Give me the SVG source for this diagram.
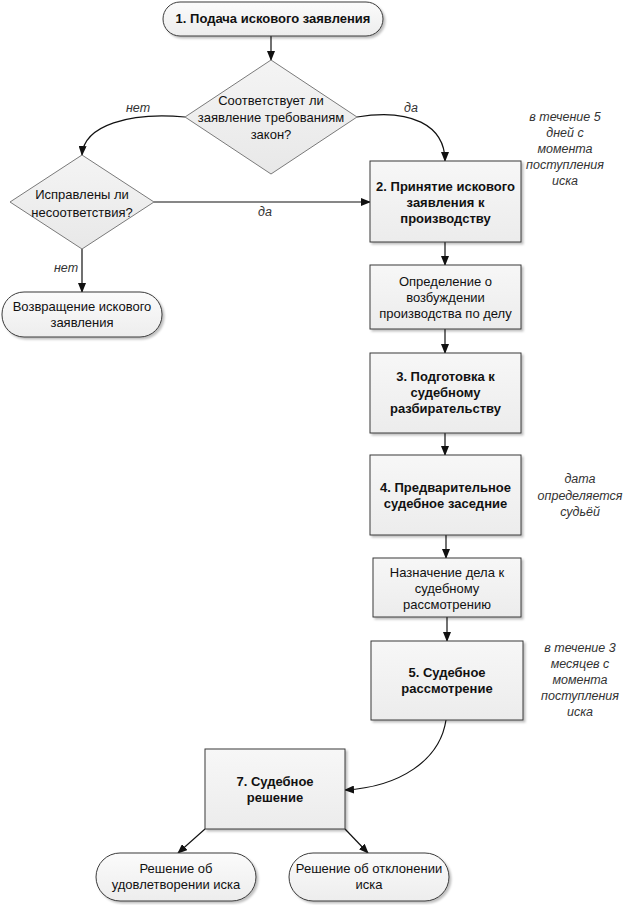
<svg xmlns="http://www.w3.org/2000/svg" width="632" height="905" viewBox="0 0 632 905">
<defs>
<style>
text{font-family:"Liberation Sans",Arial,sans-serif;font-size:13px;fill:#111;text-anchor:middle}
.b{font-weight:bold}
.it{font-style:italic;font-size:12.5px;fill:#333}
.box{fill:url(#gb);stroke:#3a3a3a;stroke-width:1;filter:url(#sh)}
.term{fill:url(#gt);stroke:#3a3a3a;stroke-width:1;filter:url(#sh)}
.dia{fill:url(#gd);stroke:#7a7a7a;stroke-width:1}
.c{fill:none;stroke:#111;stroke-width:1.2;marker-end:url(#ah)}
</style>
<linearGradient id="gb" x1="0" y1="0" x2="0" y2="1"><stop offset="0" stop-color="#f7f7f7"/><stop offset="1" stop-color="#ececec"/></linearGradient>
<linearGradient id="gt" x1="0" y1="0" x2="0" y2="1"><stop offset="0" stop-color="#fbfbfb"/><stop offset="1" stop-color="#ededed"/></linearGradient>
<linearGradient id="gd" x1="0" y1="0" x2="0" y2="1"><stop offset="0" stop-color="#f4f4f4"/><stop offset="1" stop-color="#e8e8e8"/></linearGradient>
<filter id="sh" x="-10%" y="-10%" width="130%" height="140%"><feDropShadow dx="2" dy="2" stdDeviation="1.2" flood-color="#000" flood-opacity="0.25"/></filter>
<marker id="ah" markerWidth="10" markerHeight="8" refX="9" refY="4" orient="auto" markerUnits="userSpaceOnUse"><path d="M0,0 L10,4 L0,8 Z" fill="#111"/></marker>
</defs>

<g id="connectors">
<line class="c" x1="271" y1="36" x2="271" y2="60"/>
<path class="c" d="M185,117 C130,112 84,125 82,155"/>
<path class="c" d="M357,117 C410,108 445,125 445,161"/>
<line class="c" x1="154" y1="202" x2="370" y2="202"/>
<line class="c" x1="82" y1="249" x2="82" y2="292"/>
<line class="c" x1="445" y1="242" x2="445" y2="265"/>
<line class="c" x1="445" y1="329" x2="445" y2="353"/>
<line class="c" x1="445" y1="433" x2="445" y2="455"/>
<line class="c" x1="446" y1="535" x2="446" y2="558"/>
<line class="c" x1="447" y1="617" x2="447" y2="641"/>
<path class="c" d="M446,720 C440,760 400,787 345,790"/>
<line class="c" x1="205" y1="829" x2="178" y2="853"/>
<line class="c" x1="345" y1="829" x2="368" y2="853"/>
<text class="it" x="138" y="112">нет</text>
<text class="it" x="411" y="112">да</text>
<text class="it" x="265" y="216">да</text>
<text class="it" x="66" y="272">нет</text>
</g>

<g id="n1"><rect class="term" x="163" y="2" width="220" height="34" rx="17"/><text class="b" x="273" y="23">1. Подача искового заявления</text></g>

<g id="d1"><polygon class="dia" points="271,60 357,117 271,174 185,117"/>
<text x="271" y="105">Соответствует ли</text><text x="271" y="122">заявление требованиям</text><text x="271" y="139">закон?</text></g>

<g id="d2"><polygon class="dia" points="82,155 154,202 82,249 10,202"/>
<text x="82" y="199">Исправлены ли</text><text x="82" y="217">несоответствия?</text></g>

<g id="t2"><rect class="term" x="2" y="292" width="160" height="45" rx="22"/><text x="82" y="311">Возвращение искового</text><text x="82" y="327">заявления</text></g>

<g id="b2"><rect class="box" x="370" y="161" width="151" height="81"/>
<text class="b" x="445.5" y="191">2. Принятие искового</text><text class="b" x="445.5" y="207">заявления к</text><text class="b" x="445.5" y="223">производству</text></g>

<g id="ann1"><text class="it" x="565" y="121">в течение 5</text><text class="it" x="565" y="137">дней с</text><text class="it" x="565" y="153">момента</text><text class="it" x="565" y="169">поступления</text><text class="it" x="565" y="185">иска</text></g>

<g id="b_def"><rect class="box" x="370" y="265" width="151" height="64"/>
<text x="445.5" y="286">Определение о</text><text x="445.5" y="302">возбуждении</text><text x="445.5" y="318">производства по делу</text></g>

<g id="b3"><rect class="box" x="370" y="353" width="151" height="80"/>
<text class="b" x="445.5" y="381">3. Подготовка к</text><text class="b" x="445.5" y="397">судебному</text><text class="b" x="445.5" y="413">разбирательству</text></g>

<g id="b4"><rect class="box" x="370" y="455" width="151" height="80"/>
<text class="b" x="445.5" y="492">4. Предварительное</text><text class="b" x="445.5" y="508">судебное заседние</text></g>

<g id="ann2"><text class="it" x="580" y="483">дата</text><text class="it" x="580" y="500">определяется</text><text class="it" x="580" y="516">судьёй</text></g>

<g id="b_naz"><rect class="box" x="373" y="558" width="148" height="59"/>
<text x="447" y="577">Назначение дела к</text><text x="447" y="593">судебному</text><text x="447" y="609">рассмотрению</text></g>

<g id="b5"><rect class="box" x="371" y="641" width="152" height="79"/>
<text class="b" x="447" y="677">5. Судебное</text><text class="b" x="447" y="693">рассмотрение</text></g>

<g id="ann3"><text class="it" x="580" y="652">в течение 3</text><text class="it" x="580" y="668">месяцев с</text><text class="it" x="580" y="684">момента</text><text class="it" x="580" y="700">поступления</text><text class="it" x="580" y="716">иска</text></g>

<g id="b7"><rect class="box" x="205" y="749" width="140" height="80"/>
<text class="b" x="275" y="786">7. Судебное</text><text class="b" x="275" y="802">решение</text></g>

<g id="t3"><rect class="term" x="96" y="853" width="160" height="48" rx="24"/><text x="176" y="873">Решение об</text><text x="176" y="889">удовлетворении иска</text></g>

<g id="t4"><rect class="term" x="289" y="853" width="160" height="48" rx="24"/><text x="369" y="873">Решение об отклонении</text><text x="369" y="889">иска</text></g>
</svg>
